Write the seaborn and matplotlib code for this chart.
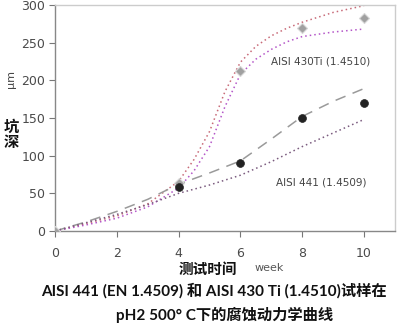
import matplotlib
matplotlib.use("Agg")
import matplotlib.pyplot as plt
import seaborn as sns

# ---- data ----
weeks_meas = [0, 4, 6, 8, 10]
pit_441 = [0, 58, 90, 150, 170]
pit_430ti = [0, 64, 212, 269, 282]

fit_x = [0, 1, 2, 3, 4, 5, 6, 7, 8, 9, 10]
fit_441_mean = [0, 12, 26, 42, 62, 77, 93, 122, 152, 172, 189]
fit_441_low = [0, 11, 22, 35, 50, 61, 74, 92, 112, 130, 148]

fit_x_ti = [0, 1, 2, 3, 4, 4.5, 5, 5.5, 6, 6.5, 7, 7.5, 8, 9, 10]
fit_430ti_high = [0, 10, 20, 36, 66, 95, 132, 185, 224, 245, 259, 269, 277, 290, 299]
fit_430ti_low = [0, 8, 17, 32, 57, 80, 112, 165, 208, 228, 241, 251, 258, 264, 268]

xticks = [0, 2, 4, 6, 8, 10]
yticks = [0, 50, 100, 150, 200, 250, 300]
label_441 = "AISI 441 (1.4509)"
label_430 = "AISI 430Ti (1.4510)"
title_line1 = "AISI 441 (EN 1.4509) 和 AISI 430 Ti (1.4510)试样在"
title_line2 = "pH2 500° C下的腐蚀动力学曲线"

sns.set_theme(style="white")
plt.rcParams['font.family'] = ['DejaVu Sans', 'Noto Sans CJK SC']

fig = plt.figure(figsize=(4.17, 3.27), dpi=100)
ax = fig.add_axes([0.132, 0.2936, 0.815, 0.6914])

sns.lineplot(x=fit_x_ti, y=fit_430ti_high, ax=ax, color="#c86a78", lw=1.1,
             linestyle=(0, (1, 2)))
sns.lineplot(x=fit_x_ti, y=fit_430ti_low, ax=ax, color="#b455c8", lw=1.1,
             linestyle=(0, (1, 2)))
sns.lineplot(x=fit_x, y=fit_441_mean, ax=ax, color="#9a9a9a", lw=1.1,
             linestyle=(0, (7, 5)))
sns.lineplot(x=fit_x, y=fit_441_low, ax=ax, color="#7a5a7e", lw=1.1,
             linestyle=(0, (1, 2)))

sns.scatterplot(x=weeks_meas, y=pit_430ti, ax=ax, marker="D", s=26,
                color="#a0a0a0", edgecolor="#d8d8d8", linewidth=0.8, zorder=5)
sns.scatterplot(x=weeks_meas[1:], y=pit_441[1:], ax=ax, marker="o", s=32,
                color="#222222", edgecolor="#222222", linewidth=0.5, zorder=6)

ax.set_xlim(0, 11)
ax.set_ylim(0, 300)
ax.set_xticks(xticks)
ax.set_yticks(yticks)
ax.tick_params(axis="both", labelsize=9, colors="#777777", length=4,
               width=0.8, direction="out", labelcolor="#4a4a4a")
ax.tick_params(axis="x", pad=7.5)
ax.tick_params(axis="y", pad=3)
ax.tick_params(bottom=True, left=True)

for s in ["left", "bottom"]:
    ax.spines[s].set_color("#888888")
    ax.spines[s].set_linewidth(1.0)
for s in ["top", "right"]:
    ax.spines[s].set_color("#cccccc")
    ax.spines[s].set_linewidth(1.0)

ax.text(7.0, 225, label_430, fontsize=7.5, color="#444444", va="center")
ax.text(7.15, 65, label_441, fontsize=7.5, color="#444444", va="center")

# axis labels
fig.text(11 / 417, 1 - 79 / 327, "μm", rotation=90, fontsize=8,
         color="#444444", ha="center", va="center")
fig.text(11 / 417, 1 - 127 / 327, "坑", fontsize=11, fontweight="bold",
         family=["Noto Sans CJK SC"], ha="center", va="center", color="#111111")
fig.text(11 / 417, 1 - 142 / 327, "深", fontsize=11, fontweight="bold",
         family=["Noto Sans CJK SC"], ha="center", va="center", color="#111111")
fig.text(208 / 417, 1 - 269 / 327, "测试时间", fontsize=10.5, fontweight="bold",
         family=["Noto Sans CJK SC"], ha="center", va="center", color="#111111")
fig.text(269 / 417, 1 - 268 / 327, "week", fontsize=8, color="#555555",
         ha="center", va="center")

fig.text(214 / 417, 1 - 291 / 327, title_line1, fontsize=11, fontweight="bold",
         family=["Lato", "Noto Sans CJK SC"], ha="center", va="center",
         color="#111111")
fig.text(225 / 417, 1 - 315 / 327, title_line2, fontsize=11, fontweight="bold",
         family=["Lato", "Noto Sans CJK SC"], ha="center", va="center",
         color="#111111")

fig.savefig("out.png", dpi=100)
